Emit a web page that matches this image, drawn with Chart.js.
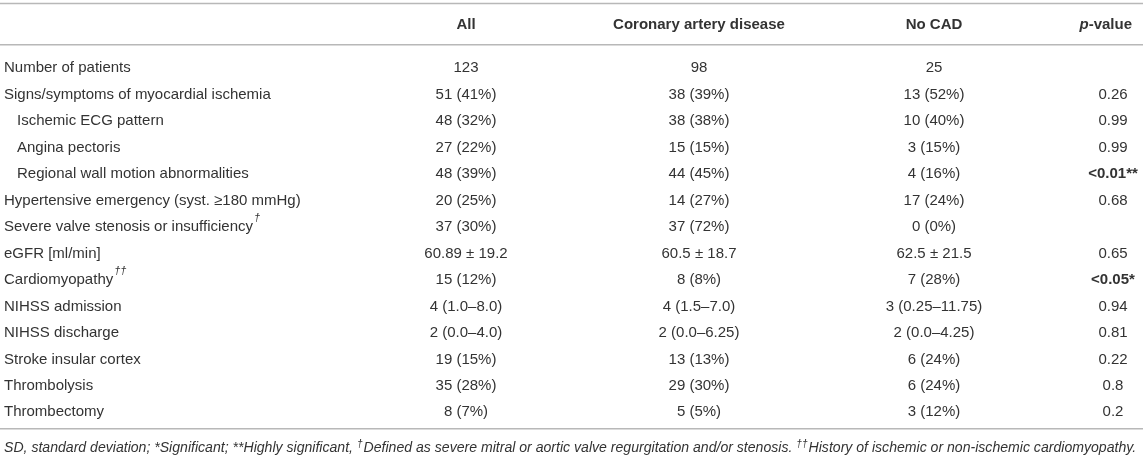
<!DOCTYPE html>
<html>
<head>
<meta charset="utf-8">
<script src="https://cdn.jsdelivr.net/npm/chart.js@4.4.0/dist/chart.umd.min.js"></script>
<style>
  html, body { margin: 0; padding: 0; background: #fff; }
  #wrap { width: 1143px; height: 464px; }
</style>
</head>
<body>
<div id="wrap"><canvas id="table1"></canvas></div>
<script>
const headers = ['All', 'Coronary artery disease', 'No CAD', 'p-value'];
const rowLabels = [
    'Number of patients',
    'Signs/symptoms of myocardial ischemia',
    'Ischemic ECG pattern',
    'Angina pectoris',
    'Regional wall motion abnormalities',
    'Hypertensive emergency (syst. \u2265180 mmHg)',
    'Severe valve stenosis or insufficiency',
    'eGFR [ml/min]',
    'Cardiomyopathy',
    'NIHSS admission',
    'NIHSS discharge',
    'Stroke insular cortex',
    'Thrombolysis',
    'Thrombectomy'
];
const rowNotes = ['', '', '', '', '', '', '\u2020', '', '\u2020\u2020', '', '', '', '', ''];
const subRows = [false, false, true, true, true, false, false, false, false, false, false, false, false, false];
const allValues = ['123', '51 (41%)', '48 (32%)', '27 (22%)', '48 (39%)', '20 (25%)', '37 (30%)',
    '60.89 \u00b1 19.2', '15 (12%)', '4 (1.0\u20138.0)', '2 (0.0\u20134.0)', '19 (15%)', '35 (28%)', '8 (7%)'];
const cadValues = ['98', '38 (39%)', '38 (38%)', '15 (15%)', '44 (45%)', '14 (27%)', '37 (72%)',
    '60.5 \u00b1 18.7', '8 (8%)', '4 (1.5\u20137.0)', '2 (0.0\u20136.25)', '13 (13%)', '29 (30%)', '5 (5%)'];
const noCadValues = ['25', '13 (52%)', '10 (40%)', '3 (15%)', '4 (16%)', '17 (24%)', '0 (0%)',
    '62.5 \u00b1 21.5', '7 (28%)', '3 (0.25\u201311.75)', '2 (0.0\u20134.25)', '6 (24%)', '6 (24%)', '3 (12%)'];
const pValues = ['', '0.26', '0.99', '0.99', '<0.01**', '0.68', '', '0.65', '<0.05*', '0.94', '0.81', '0.22', '0.8', '0.2'];
const footnote = [
    ['SD, standard deviation; *Significant; **Highly significant, ', false],
    ['\u2020', true],
    ['Defined as severe mitral or aortic valve regurgitation and/or stenosis. ', false],
    ['\u2020\u2020', true],
    ['History of ischemic or non-ischemic cardiomyopathy.', false]
];

// layout (pixels across, row units down)
const W = 1143;
const colX = { label: 4, sub: 17, all: 466, cad: 699, nocad: 934, p: 1113, pHead: 1132 };
const rowTop = -2.57, rowBottom = 14.95;
const headerRow = -1.62;
const rules = [-2.44, -0.88, 13.62];
const footRow = 14.36;
const footEnd = 1138;
const ink = '#333';
const fontFamily = "'Liberation Sans', Arial, sans-serif";
const bodySize = 15;

const rowIdx = rowLabels.map((_, i) => i);

function cellSet(texts, x, align, extra) {
    return Object.assign({
        type: 'scatter',
        data: rowIdx.map(i => ({ x: typeof x === 'function' ? x(i) : x, y: i })),
        texts: texts,
        align: align,
        pointRadius: 0,
        showLine: false
    }, extra || {});
}

const datasets = [
    cellSet(rowLabels, i => subRows[i] ? colX.sub : colX.label, 'left', { notes: rowNotes }),
    cellSet(allValues, colX.all, 'center'),
    cellSet(cadValues, colX.cad, 'center'),
    cellSet(noCadValues, colX.nocad, 'center'),
    cellSet(pValues, colX.p, 'center', { boldIf: t => t.startsWith('<') }),
    {
        type: 'scatter',
        data: [colX.all, colX.cad, colX.nocad].map(x => ({ x: x, y: headerRow })),
        texts: headers.slice(0, 3),
        align: 'center',
        bold: true,
        pointRadius: 0
    },
    {
        type: 'scatter',
        data: [{ x: colX.pHead, y: headerRow }],
        texts: [headers[3]],
        align: 'right',
        header: 'p',
        pointRadius: 0
    }
];

rules.forEach(r => {
    datasets.push({
        type: 'line',
        data: [{ x: 0, y: r }, { x: W, y: r }],
        borderColor: '#b8b8b8',
        borderWidth: 1.6,
        pointRadius: 0,
        rule: true
    });
});

datasets.push({
    type: 'scatter',
    data: [{ x: colX.label, y: footRow }],
    foot: true,
    pointRadius: 0
});

function drawFootnote(ctx, x, y) {
    // fit the italic note line to the table width
    let size = 12;
    const widthAt = s => footnote.reduce((w, [t, sup]) => {
        ctx.font = 'italic ' + (sup ? s * 0.72 : s) + 'px ' + fontFamily;
        return w + ctx.measureText(t).width + (sup ? 1 : 0);
    }, 0);
    size = size * (footEnd - x) / widthAt(size);
    footnote.forEach(([t, sup]) => {
        ctx.font = 'italic ' + (sup ? size * 0.72 : size) + 'px ' + fontFamily;
        ctx.textAlign = 'left';
        ctx.fillText(t, x, sup ? y - 4 : y);
        x += ctx.measureText(t).width + (sup ? 1 : 0);
    });
}

const tableText = {
    id: 'tableText',
    afterDatasetsDraw(chart) {
        const ctx = chart.ctx;
        ctx.save();
        ctx.fillStyle = ink;
        ctx.textBaseline = 'middle';
        chart.data.datasets.forEach((ds, di) => {
            const meta = chart.getDatasetMeta(di);
            if (ds.rule) return;
            if (ds.foot) {
                drawFootnote(ctx, meta.data[0].x, meta.data[0].y);
                return;
            }
            if (ds.header === 'p') {
                const el = meta.data[0];
                ctx.textAlign = 'left';
                ctx.font = 'bold ' + bodySize + 'px ' + fontFamily;
                const rest = '-value';
                const wRest = ctx.measureText(rest).width;
                ctx.font = 'italic bold ' + bodySize + 'px ' + fontFamily;
                const wP = ctx.measureText('p').width;
                const x0 = el.x - wRest - wP;
                ctx.fillText('p', x0, el.y);
                ctx.font = 'bold ' + bodySize + 'px ' + fontFamily;
                ctx.fillText(rest, x0 + wP, el.y);
                return;
            }
            meta.data.forEach((el, i) => {
                const t = ds.texts[i];
                if (!t) return;
                const bold = ds.bold || (ds.boldIf && ds.boldIf(t));
                ctx.font = (bold ? 'bold ' : '') + bodySize + 'px ' + fontFamily;
                ctx.textAlign = ds.align;
                ctx.fillText(t, el.x, el.y);
                if (ds.notes && ds.notes[i]) {
                    const w = ctx.measureText(t).width;
                    ctx.font = 'italic 11px ' + fontFamily;
                    ctx.textAlign = 'left';
                    ctx.fillText(ds.notes[i], el.x + w + 1, el.y - 9);
                }
            });
        });
        ctx.restore();
    }
};

new Chart(document.getElementById('table1').getContext('2d'), {
    type: 'scatter',
    data: { datasets: datasets },
    options: {
        responsive: true,
        maintainAspectRatio: false,
        animation: false,
        layout: { padding: 0 },
        plugins: { legend: { display: false }, tooltip: { enabled: false } },
        scales: {
            x: { type: 'linear', min: 0, max: W, display: false },
            y: { type: 'linear', min: rowTop, max: rowBottom, reverse: true, display: false }
        }
    },
    plugins: [tableText]
});
</script>
</body>
</html>
